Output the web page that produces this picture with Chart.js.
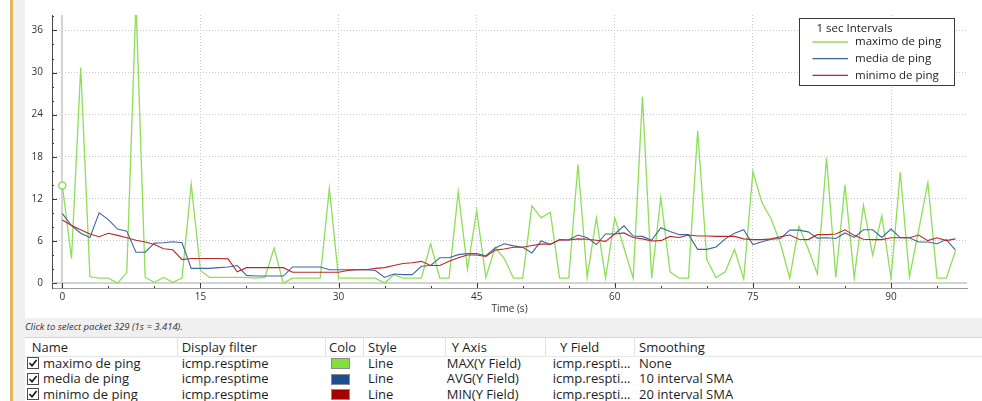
<!DOCTYPE html>
<html>
<head>
<meta charset="utf-8">
<script src="https://cdn.jsdelivr.net/npm/chart.js@4.4.1/dist/chart.umd.min.js"></script>
<style>
  html, body { margin: 0; padding: 0; }
  body { width: 982px; height: 401px; overflow: hidden; position: relative; background: #fff;
         font-family: "Open Sans", sans-serif; color: #1e1e1e; }
  #edge  { position: absolute; left: 10px; top: 0; width: 3px; height: 401px; background: #e6b65e; }
  #strip { position: absolute; left: 13px; top: 0; width: 12px; height: 401px; background: #f0f0f0; }
  #plot  { position: absolute; left: 25px; top: 0; width: 957px; height: 318px; }
  #hint  { position: absolute; left: 13px; top: 318px; width: 969px; height: 19px; background: #f0f0f0; }
  #hint span { position: absolute; left: 12px; top: 2px; font-size: 9.5px; font-style: italic; color: #333; }
  #grid  { position: absolute; left: 25px; top: 337px; width: 957px; height: 64px; background: #fff;
           border-top: 1px solid #d6d6d6; font-size: 13px; }
  #head  { position: absolute; left: 0; top: 0; width: 957px; height: 18px; border-bottom: 1px solid #e6e6e6; }
  .sep   { position: absolute; top: 0; width: 1px; height: 18px; background: #e2e2e2; }
  .cell  { position: absolute; white-space: nowrap; }
  .hcell { top: 0; line-height: 18px; }
  .row   { position: absolute; left: 0; width: 957px; height: 15.5px; line-height: 15.5px; }
  .box   { position: absolute; left: 2px; top: 1.75px; width: 10px; height: 10px; border: 1px solid #4a4a4a; background: #fff; }
  .box svg { position: absolute; left: 0; top: 0; }
  .swatch { position: absolute; left: 306px; top: 2.5px; width: 17px; height: 9px; border: 1px solid #8a8a8a; }
</style>
</head>
<body>
<div id="edge"></div>
<div id="strip"></div>
<div id="plot"><canvas id="io" width="957" height="318"></canvas></div>
<div id="hint"><span>Click to select packet 329 (1s = 3.414).</span></div>
<div id="grid"><div id="head"></div></div>

<script>
// ── IO GRAPH ──
// Wireshark style I/O graph: ping max / avg / min per 1 sec interval.

// 1. Data (one value per second, t = 0..97)
const maxPing = [
  13.9, 3.5, 30.7, 0.9, 0.7, 0.7, 0.0, 1.5, 40.0, 0.8,
  0.1, 0.8, 0.1, 0.7, 14.1, 1.8, 0.8, 0.8, 0.8, 0.8,
  0.8, 0.7, 0.8, 5.0, 0.0, 0.7, 0.7, 0.7, 0.7, 13.5,
  0.7, 0.7, 0.7, 0.7, 0.7, 0.0, 1.2, 0.7, 0.7, 0.7,
  5.6, 0.7, 0.7, 13.0, 2.0, 10.3, 0.8, 5.1, 3.5, 0.7,
  0.7, 11.0, 9.3, 10.1, 0.7, 0.7, 16.9, 0.8, 9.3, 0.7,
  9.3, 5.0, 0.7, 26.6, 0.7, 12.2, 1.6, 0.7, 0.7, 21.7,
  3.3, 0.8, 1.6, 4.8, 0.6, 15.9, 11.4, 9.1, 5.6, 0.7,
  8.1, 4.9, 1.3, 17.9, 0.8, 14.0, 0.7, 11.1, 4.0, 9.6,
  0.7, 15.8, 0.9, 7.5, 14.3, 0.7, 0.7, 4.6
];
const avgPing = [
  9.9, 8.2, 7.1, 6.5, 10.0, 9.05, 7.7, 7.4, 4.4, 4.4,
  5.7, 5.75, 5.9, 5.75, 2.1, 2.1, 2.1, 2.2, 2.3, 2.5,
  1.1, 1.0, 1.0, 1.0, 1.0, 2.3, 2.3, 2.3, 2.3, 1.9,
  1.9, 1.9, 1.9, 1.9, 1.8, 0.8, 1.3, 1.2, 1.2, 2.4,
  2.5, 3.6, 3.6, 4.05, 4.2, 4.2, 3.9, 5.0, 5.6, 5.3,
  5.1, 4.3, 6.0, 5.5, 6.2, 6.15, 6.85, 6.45, 5.5, 7.0,
  7.0, 8.15, 6.7, 6.65, 6.1, 7.9, 7.35, 6.9, 6.9, 4.8,
  4.8, 5.15, 6.3, 7.1, 7.6, 5.5, 5.9, 6.25, 6.35, 7.55,
  7.55, 7.3, 6.4, 6.45, 6.35, 7.15, 6.5, 7.6, 7.6, 6.5,
  7.7, 6.45, 6.45, 5.85, 5.85, 5.6, 6.2, 4.7
];
const minPing = [
  9.0, 8.2, 7.6, 7.0, 6.6, 7.1, 6.8, 6.45, 6.1, 5.85,
  5.5, 4.9, 4.75, 3.35, 3.5, 3.5, 3.5, 3.5, 3.45, 1.6,
  2.2, 2.2, 2.2, 2.2, 2.2, 1.55, 1.55, 1.55, 1.55, 1.55,
  1.55, 1.8, 1.9, 1.9, 2.1, 2.2, 2.5, 2.8, 2.9, 3.1,
  2.5, 2.5, 3.1, 3.6, 4.0, 4.0, 3.8, 4.7, 4.85, 5.1,
  5.1, 5.35, 5.55, 5.55, 6.15, 6.15, 6.3, 6.25, 6.1, 5.95,
  7.0, 7.15, 6.5, 6.3, 6.0, 6.05, 6.65, 6.5, 6.85, 6.7,
  6.7, 6.65, 6.65, 6.65, 6.3, 6.2, 6.2, 6.3, 6.6, 6.85,
  6.25, 6.2, 6.9, 6.9, 7.0, 7.6, 6.8, 6.25, 6.2, 6.2,
  6.45, 6.45, 6.45, 6.85, 6.05, 6.45, 6.05, 6.3
];
const xTicks = [0, 15, 30, 45, 60, 75, 90];
const yTicks = [0, 6, 12, 18, 24, 30, 36];
const legendTitle = '1 sec Intervals';

// table rows
const seriesNames  = ['maximo de ping', 'media de ping', 'minimo de ping'];
const filters      = ['icmp.resptime', 'icmp.resptime', 'icmp.resptime'];
const seriesColors = ['#80e040', '#1f4e8e', '#a50000'];
const styles       = ['Line', 'Line', 'Line'];
const yAxes        = ['MAX(Y Field)', 'AVG(Y Field)', 'MIN(Y Field)'];
const yFields      = ['icmp.respti...', 'icmp.respti...', 'icmp.respti...'];
const smoothing    = ['None', '10 interval SMA', '20 interval SMA'];

const toPoints = arr => arr.map((v, i) => ({ x: i, y: v }));

// 2. Table under the plot
const grid = document.getElementById('grid');
const head = document.getElementById('head');
[['Name', 6.7], ['Display filter', 156.7], ['Colo', 304], ['Style', 343], ['Y Axis', 426.7], ['Y Field', 535], ['Smoothing', 614]]
  .forEach(([t, x]) => {
    const el = document.createElement('div');
    el.className = 'cell hcell';
    el.style.left = x + 'px';
    el.textContent = t;
    head.appendChild(el);
  });
[151.7, 300, 338, 420, 520, 609].forEach(x => {
  const s = document.createElement('div');
  s.className = 'sep';
  s.style.left = x + 'px';
  head.appendChild(s);
});
seriesNames.forEach((name, i) => {
  const row = document.createElement('div');
  row.className = 'row';
  row.style.top = (17.5 + i * 15.5) + 'px';
  row.innerHTML = `
    <div class="box"><svg width="10" height="10"><polyline points="1.5,5 4,7.8 8.6,2" fill="none" stroke="#1a1a1a" stroke-width="1.7"/></svg></div>
    <div class="cell" style="left:18px">${name}</div>
    <div class="cell" style="left:156.7px">${filters[i]}</div>
    <div class="swatch" style="background:${seriesColors[i]}"></div>
    <div class="cell" style="left:343px">${styles[i]}</div>
    <div class="cell" style="left:421.7px">${yAxes[i]}</div>
    <div class="cell" style="left:527.7px">${yFields[i]}</div>
    <div class="cell" style="left:614px">${smoothing[i]}</div>`;
  grid.appendChild(row);
});

// 3. Zero lines, inward tick marks and the boxed legend
const ioPlugin = {
  id: 'ioGraph',
  beforeDatasetsDraw(chart) {
    const { ctx, chartArea: a, scales: { x, y } } = chart;
    const x0 = Math.round(x.getPixelForValue(0)), y0 = Math.round(y.getPixelForValue(0));
    ctx.save();
    ctx.strokeStyle = '#d3d3d3';
    ctx.lineWidth = 2;
    ctx.beginPath();
    ctx.moveTo(x0, a.top); ctx.lineTo(x0, a.bottom);
    ctx.moveTo(a.left, y0); ctx.lineTo(a.right, y0);
    ctx.stroke();
    ctx.restore();
  },
  afterDatasetsDraw(chart) {
    const { ctx, chartArea: a, scales: { x, y } } = chart;
    ctx.save();
    ctx.strokeStyle = '#3c3c3c';
    ctx.lineWidth = 1;
    ctx.beginPath();
    for (let v = 0; v <= x.max; v += 5) {
      const px = Math.round(x.getPixelForValue(v)) + 0.5, len = v % 15 === 0 ? 5 : 2;
      ctx.moveTo(px, a.bottom); ctx.lineTo(px, a.bottom - len);
    }
    for (let v = 0; v <= y.max; v += 2) {
      const py = Math.round(y.getPixelForValue(v)) + 0.5, len = v % 6 === 0 ? 5 : 2;
      ctx.moveTo(a.left, py); ctx.lineTo(a.left + len, py);
    }
    ctx.stroke();

    // legend box
    const w = 155, h = 67, left = a.right - 13 - w, top = a.top + 3;
    ctx.fillStyle = '#fff';
    ctx.fillRect(left, top, w, h);
    ctx.strokeStyle = '#3a3a3a';
    ctx.strokeRect(left + 0.5, top + 0.5, w, h);
    ctx.font = '11.5px "Open Sans"';
    ctx.textBaseline = 'middle';
    ctx.fillStyle = '#222';
    ctx.fillText(legendTitle, left + 17.5, top + 10.5);
    chart.data.datasets.forEach((ds, i) => {
      const yy = top + 24 + i * 16.7;
      ctx.strokeStyle = ds.borderColor;
      ctx.lineWidth = 1.3;
      ctx.beginPath();
      ctx.moveTo(left + 13.5, yy); ctx.lineTo(left + 49, yy);
      ctx.stroke();
      ctx.fillStyle = '#222';
      ctx.fillText(ds.label, left + 56, yy);
    });
    ctx.restore();
  }
};

// 4. Chart
const tickFont = { family: 'Open Sans', size: 10 };
const gridColor = c => (c.tick && c.tick.value === 0) ? 'rgba(0,0,0,0)' : '#c6c6c6';

new Chart(document.getElementById('io'), {
  type: 'line',
  data: {
    datasets: [
      { label: seriesNames[0], data: toPoints(maxPing), borderColor: '#8ede58', borderWidth: 1.3, order: 3,
        pointRadius: c => c.dataIndex === 0 ? 3.5 : 0, pointBorderColor: '#8ede58', pointBackgroundColor: '#fff', pointBorderWidth: 1.5 },
      { label: seriesNames[1], data: toPoints(avgPing), borderColor: '#3f66a2', borderWidth: 1.1, order: 2, pointRadius: 0 },
      { label: seriesNames[2], data: toPoints(minPing), borderColor: '#b82a2a', borderWidth: 1.1, order: 1, pointRadius: 0 }
    ]
  },
  options: {
    responsive: false,
    animation: false,
    events: [],
    layout: { padding: { top: 13, right: 15, left: 0, bottom: 0 } },
    plugins: { legend: { display: false }, tooltip: { enabled: false } },
    scales: {
      x: {
        type: 'linear', min: -1.12, max: 98.25,
        afterBuildTicks: s => { s.ticks = xTicks.map(v => ({ value: v })); },
        afterFit: s => { s.height = 30; },
        grid: { color: gridColor, lineWidth: 1, drawTicks: false },
        border: { display: true, color: '#9a9a9a', width: 1, dash: [1, 2] },
        ticks: { font: tickFont, color: '#333', padding: 3, maxRotation: 0, autoSkip: false },
        title: { display: true, text: 'Time (s)', font: tickFont, color: '#333', padding: { top: 0, bottom: 3 } }
      },
      y: {
        min: -0.7, max: 38.2,
        afterBuildTicks: s => { s.ticks = yTicks.map(v => ({ value: v })); },
        afterFit: s => { s.width = 27; },
        grid: { color: gridColor, lineWidth: 1, drawTicks: false },
        border: { display: true, color: '#4a4a4a', width: 1, dash: [1, 2] },
        ticks: { font: tickFont, color: '#333', padding: 9, autoSkip: false }
      }
    }
  },
  plugins: [ioPlugin]
});
</script>
</body>
</html>
